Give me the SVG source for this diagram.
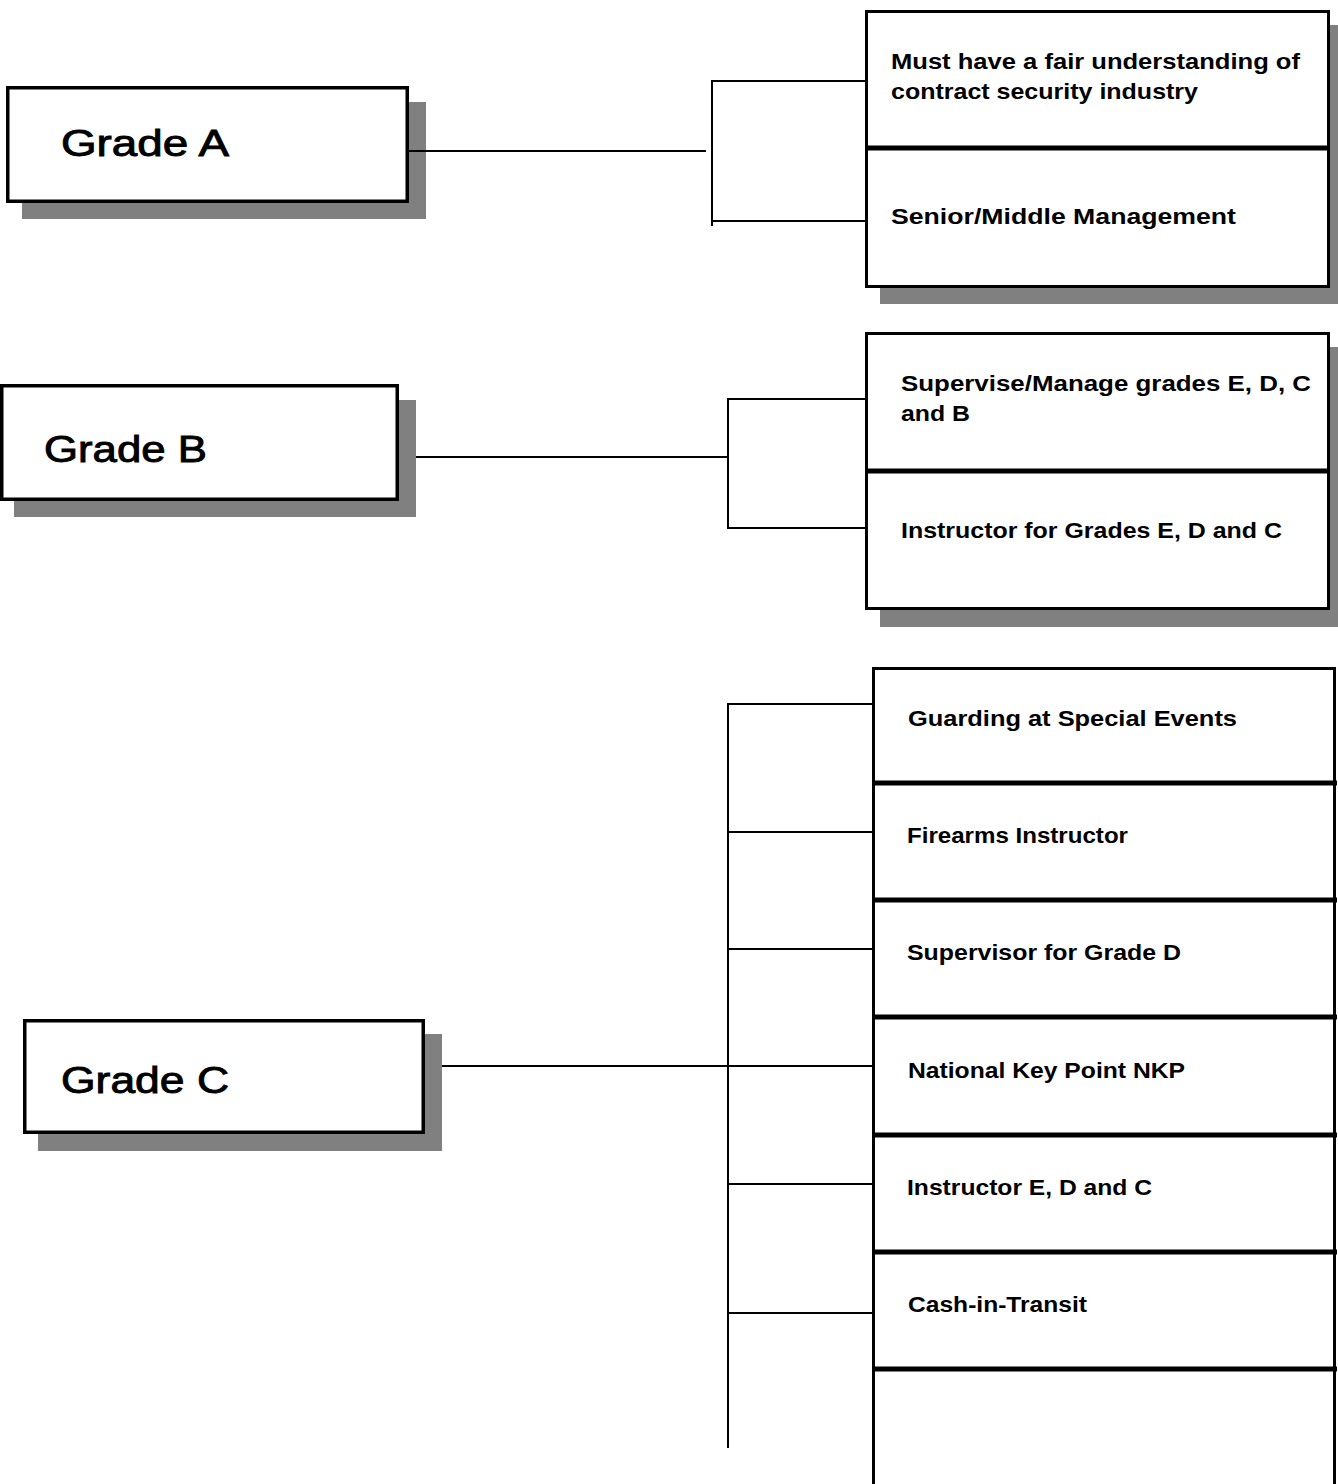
<svg xmlns="http://www.w3.org/2000/svg" width="1338" height="1484" viewBox="0 0 1338 1484">
<style>
.shadow{fill:#808080;stroke:none}
.grade{fill:#fff;stroke:#000;stroke-width:3.5}
.cell{fill:#fff;stroke:#000;stroke-width:3}
.div{stroke:#000;stroke-width:5}
.conn line{stroke:#000;stroke-width:2}
.gt{font-family:"Liberation Sans",Arial,sans-serif;font-size:37px;fill:#000;stroke:#000;stroke-width:0.9}
.it{font-family:"Liberation Sans",Arial,sans-serif;font-size:22px;font-weight:bold;fill:#000}
</style>
<rect width="1338" height="1484" fill="#fff"/>

<g id="gradeA">
<rect class="shadow" x="22" y="102" width="404" height="117"/>
<rect class="grade" x="7.75" y="87.75" width="399.5" height="113.5"/>
<text class="gt" x="61" y="156" textLength="168" lengthAdjust="spacingAndGlyphs">Grade A</text>
</g>

<g id="gradeA-items">
<rect class="shadow" x="880" y="25" width="458" height="279"/>
<rect class="cell" x="866.5" y="11.5" width="462" height="275"/>
<line class="div" x1="865" y1="148" x2="1330" y2="148"/>
<text class="it" x="891" y="69" textLength="409" lengthAdjust="spacingAndGlyphs">Must have a fair understanding of</text>
<text class="it" x="891" y="99" textLength="307" lengthAdjust="spacingAndGlyphs">contract security industry</text>
<text class="it" x="891" y="224" textLength="345" lengthAdjust="spacingAndGlyphs">Senior/Middle Management</text>
</g>

<g id="gradeB">
<rect class="shadow" x="14" y="400" width="402" height="117"/>
<rect class="grade" x="1.75" y="385.75" width="395.5" height="113.5"/>
<text class="gt" x="44" y="462" textLength="163" lengthAdjust="spacingAndGlyphs">Grade B</text>
</g>

<g id="gradeB-items">
<rect class="shadow" x="880" y="347" width="458" height="280"/>
<rect class="cell" x="866.5" y="333.5" width="462" height="275"/>
<line class="div" x1="865" y1="471" x2="1330" y2="471"/>
<text class="it" x="901" y="391" textLength="410" lengthAdjust="spacingAndGlyphs">Supervise/Manage grades E, D, C</text>
<text class="it" x="901" y="421" textLength="69" lengthAdjust="spacingAndGlyphs">and B</text>
<text class="it" x="901" y="538" textLength="381" lengthAdjust="spacingAndGlyphs">Instructor for Grades E, D and C</text>
</g>

<g id="gradeC">
<rect class="shadow" x="38" y="1034" width="404" height="117"/>
<rect class="grade" x="24.75" y="1020.75" width="398.5" height="111.5"/>
<text class="gt" x="61" y="1093" textLength="168" lengthAdjust="spacingAndGlyphs">Grade C</text>
</g>

<g id="gradeC-items">
<rect class="cell" x="873.5" y="668.5" width="461" height="830"/>
<line class="div" x1="872" y1="783" x2="1337" y2="783"/>
<line class="div" x1="872" y1="900" x2="1337" y2="900"/>
<line class="div" x1="872" y1="1017" x2="1337" y2="1017"/>
<line class="div" x1="872" y1="1135" x2="1337" y2="1135"/>
<line class="div" x1="872" y1="1252" x2="1337" y2="1252"/>
<line class="div" x1="872" y1="1369" x2="1337" y2="1369"/>
<text class="it" x="908" y="726" textLength="329" lengthAdjust="spacingAndGlyphs">Guarding at Special Events</text>
<text class="it" x="907" y="843" textLength="221" lengthAdjust="spacingAndGlyphs">Firearms Instructor</text>
<text class="it" x="907" y="960" textLength="274" lengthAdjust="spacingAndGlyphs">Supervisor for Grade D</text>
<text class="it" x="908" y="1078" textLength="277" lengthAdjust="spacingAndGlyphs">National Key Point NKP</text>
<text class="it" x="907" y="1195" textLength="245" lengthAdjust="spacingAndGlyphs">Instructor E, D and C</text>
<text class="it" x="908" y="1312" textLength="179" lengthAdjust="spacingAndGlyphs">Cash-in-Transit</text>
</g>

<g id="connectors" class="conn">
<line x1="409" y1="151" x2="706" y2="151"/>
<line x1="712" y1="80" x2="712" y2="226"/>
<line x1="711" y1="81" x2="865" y2="81"/>
<line x1="711" y1="221" x2="865" y2="221"/>

<line x1="416" y1="457" x2="728" y2="457"/>
<line x1="728" y1="398" x2="728" y2="529"/>
<line x1="727" y1="399" x2="865" y2="399"/>
<line x1="727" y1="528" x2="865" y2="528"/>

<line x1="442" y1="1066" x2="872" y2="1066"/>
<line x1="728" y1="703" x2="728" y2="1448"/>
<line x1="727" y1="704" x2="872" y2="704"/>
<line x1="727" y1="832" x2="872" y2="832"/>
<line x1="727" y1="949" x2="872" y2="949"/>
<line x1="727" y1="1184" x2="872" y2="1184"/>
<line x1="727" y1="1313" x2="872" y2="1313"/>
</g>
</svg>
